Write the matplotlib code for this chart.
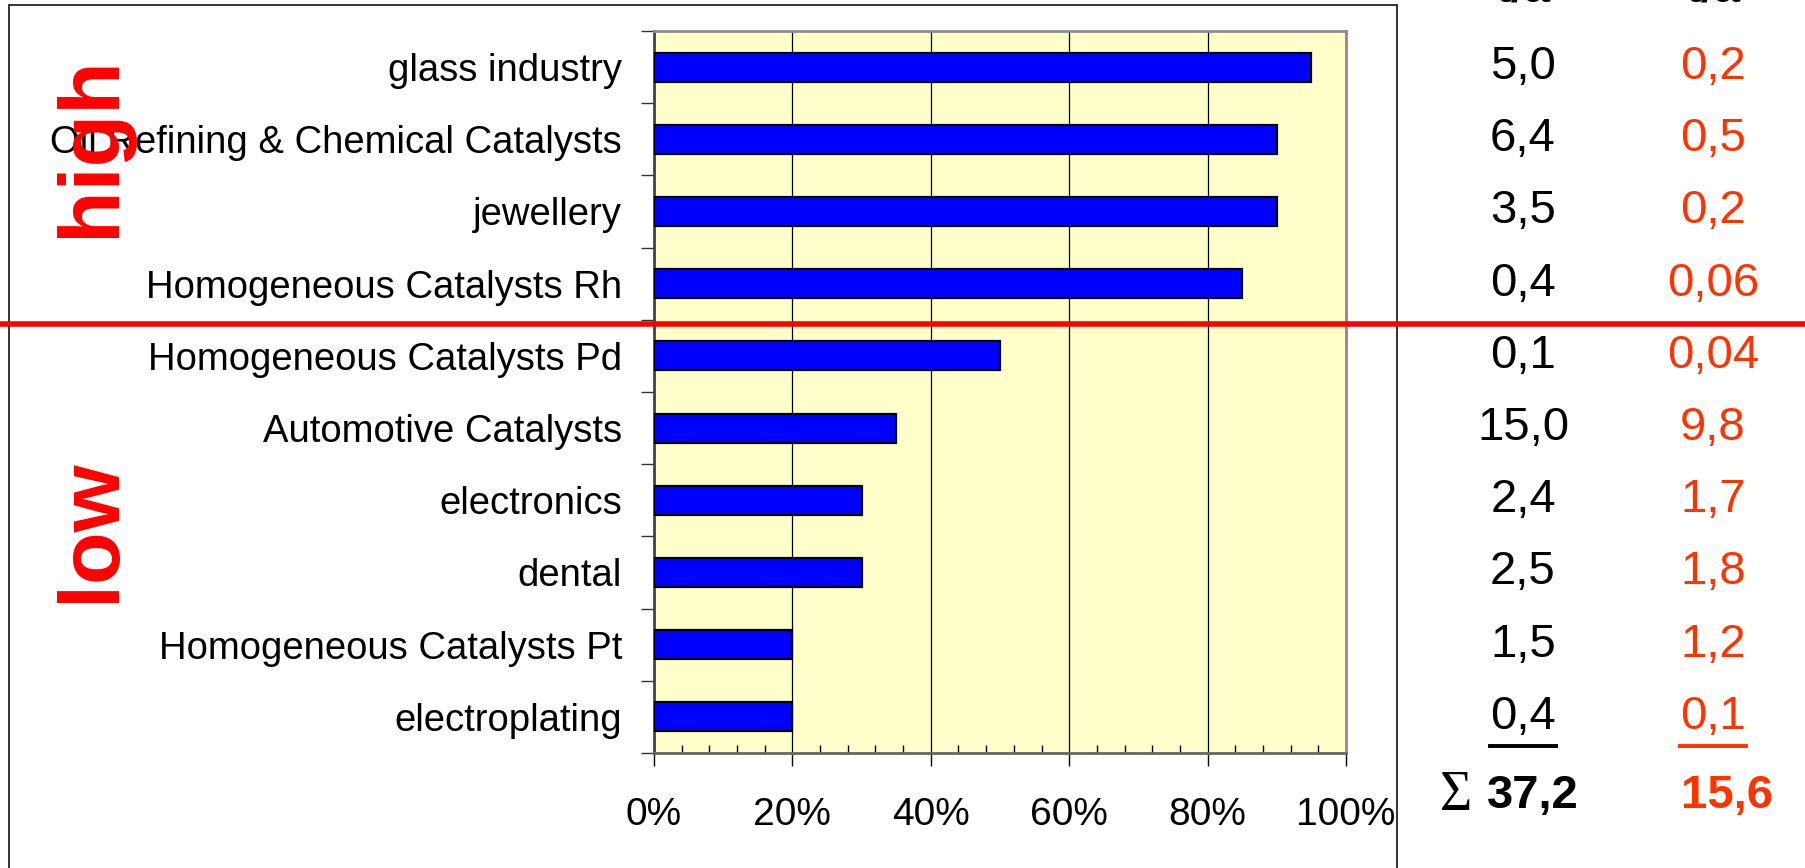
import matplotlib
matplotlib.use('Agg')
import matplotlib.pyplot as plt
from matplotlib.lines import Line2D
from matplotlib.patches import Rectangle
from matplotlib.transforms import blended_transform_factory
from matplotlib.ticker import MultipleLocator, FuncFormatter

plt.rcParams['font.family'] = ['Liberation Sans', 'DejaVu Sans']

categories = ['glass industry', 'Oil Refining & Chemical Catalysts', 'jewellery',
              'Homogeneous Catalysts Rh', 'Homogeneous Catalysts Pd',
              'Automotive Catalysts', 'electronics', 'dental',
              'Homogeneous Catalysts Pt', 'electroplating']
share = [95, 90, 90, 85, 50, 35, 30, 30, 20, 20]
demand = ['5,0', '6,4', '3,5', '0,4', '0,1', '15,0', '2,4', '2,5', '1,5', '0,4']
losses = ['0,2', '0,5', '0,2', '0,06', '0,04', '9,8', '1,7', '1,8', '1,2', '0,1']
demand_sum = '37,2'
losses_sum = '15,6'
header = 't/a'

red = '#ff0000'
orange = '#ff3300'

fig = plt.figure(figsize=(18.06, 8.68), dpi=100)
W, H = 1806, 868

# outer frame (bottom runs off the picture)
fig.add_artist(Rectangle((9 / W, -0.05), (1397 - 9) / W, 1.05 - 5 / H,
                         transform=fig.transFigure, fill=False,
                         edgecolor='#222222', linewidth=1.3))

ax = fig.add_axes([654 / W, 1 - 753 / H, 692 / W, 722 / H])
ax.set_facecolor('#ffffcc')

ypos = list(range(len(categories)))
ax.barh(ypos, share, height=0.4, color='#0000ff', edgecolor='black',
        linewidth=1.6, zorder=3)

ax.set_xlim(0, 100)
ax.set_ylim(len(categories) - 0.5, -0.5)

# x axis
ax.xaxis.set_major_locator(MultipleLocator(20))
ax.xaxis.set_minor_locator(MultipleLocator(4))
ax.xaxis.set_major_formatter(FuncFormatter(lambda v, p: '%d%%' % v))
ax.tick_params(axis='x', which='major', direction='out', length=9.5,
               width=1, pad=22, labelsize=28)
ax.tick_params(axis='x', which='minor', direction='in', length=6, width=1)
ax.grid(axis='x', which='major', color='black', linewidth=0.9, zorder=1)

# y axis: ticks between bars, labels at bars
ax.set_yticks([y - 0.5 for y in ypos] + [len(categories) - 0.5])
ax.set_yticklabels([])
ax.set_yticks(ypos, minor=True)
ax.set_yticklabels(categories, minor=True)
ax.tick_params(axis='y', which='major', direction='out', length=9.5,
               width=1, color='#333333')
ax.tick_params(axis='y', which='minor', length=0, pad=23, labelsize=27.5)

for side in ['top', 'right']:
    ax.spines[side].set_color('#8c8c8c')
    ax.spines[side].set_linewidth(2)
ax.spines['left'].set_color('#444444')
ax.spines['left'].set_linewidth(2)
ax.spines['bottom'].set_color('#666666')
ax.spines['bottom'].set_linewidth(2)
ax.set_axisbelow(True)

# divider between high and low
divider_y = 3.56
trans = blended_transform_factory(fig.transFigure, ax.transData)
fig.add_artist(Line2D([0, 1], [divider_y, divider_y], transform=trans,
                      color=red, linewidth=4))

fig.text(92 / W, 1 - 146 / H, 'high', rotation=90, color=red, fontsize=62,
         fontweight='bold', ha='center', va='center')
fig.text(92 / W, 1 - 530 / H, 'low', rotation=90, color=red, fontsize=62,
         fontweight='bold', ha='center', va='center')

# numbers on the right (column header runs off the top as in the original)
col1_x = 1523 / W
col2_x = 1713 / W
fig.text(col1_x, 1 - 2 / H, header, fontsize=34, fontweight='bold',
         ha='center', va='baseline')
fig.text(col2_x, 1 - 2 / H, header, fontsize=34, fontweight='bold',
         ha='center', va='baseline')

last1 = last2 = None
for y, a, b in zip(ypos, demand, losses):
    last1 = fig.text(col1_x, y, a, transform=trans, fontsize=34,
                     ha='center', va='center')
    last2 = fig.text(col2_x, y, b, transform=trans, fontsize=34,
                     color=orange, ha='center', va='center')

sum_y = len(categories) + 0.1
fig.text(1456 / W, sum_y, '\u03a3', transform=trans, fontsize=40,
         family=['Liberation Serif', 'DejaVu Serif'], ha='center', va='center')
fig.text(col1_x + 10 / W, sum_y, demand_sum, transform=trans, fontsize=34,
         fontweight='bold', ha='center', va='center')
fig.text(col2_x + 14 / W, sum_y, losses_sum, transform=trans, fontsize=34,
         fontweight='bold', color=orange, ha='center', va='center')

# underline the last row of both columns
renderer = fig.canvas.get_renderer()
for t, c in [(last1, 'black'), (last2, orange)]:
    bb = t.get_window_extent(renderer)
    yl = (bb.y0 - 7) / H
    fig.add_artist(Line2D([bb.x0 / W, bb.x1 / W], [yl, yl],
                          transform=fig.transFigure, color=c, linewidth=2.8))

fig.savefig('out.png', dpi=100, facecolor='white')
